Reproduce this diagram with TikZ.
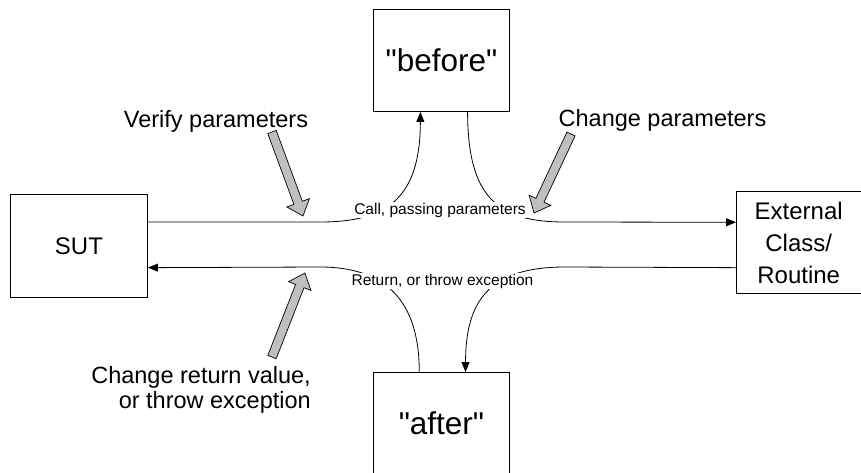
\documentclass[tikz,border=0pt]{standalone}
\usepackage{fontspec}
\setmainfont{Liberation Sans}
\usetikzlibrary{arrows.meta,calc}

\tikzset{
  box/.style={draw, line width=0.9pt, inner sep=0pt, anchor=north west, align=center},
  bigtext/.style={font=\fontsize{24}{32}\selectfont},
  hugetext/.style={font=\fontsize{31.5}{36}\selectfont},
  note/.style={font=\fontsize{23.5}{25}\selectfont, inner sep=0pt},
  flowlabel/.style={font=\fontsize{15.5}{18}\selectfont, fill=white, inner sep=0.6pt, anchor=base},
  flow/.style={line width=0.8pt},
  tip/.style={-{Triangle[length=10pt,width=8pt]}},
  hint/.style={fill=black!25, draw=black, line width=0.7pt, line join=miter}
}

% gray block arrow: tail point, direction angle, overall length
\newcommand{\grayarrow}[3]{%
  \begin{scope}[shift={(#1)}, rotate=#2]
    \filldraw[hint] (0,-4.5) -- ({#3-14},-4.5) -- ({#3-14},-12) -- (#3,0)
      -- ({#3-14},12) -- ({#3-14},4.5) -- (0,4.5) -- cycle;
  \end{scope}}

\begin{document}
\begin{tikzpicture}[x=1pt, y=-1pt]
  \useasboundingbox (0,0) rectangle (861,472);

  % boxes
  \node[box, bigtext, minimum width=137pt, minimum height=103pt] (sut) at (10,194) {SUT};
  \node[box, bigtext, minimum width=124.5pt, minimum height=102pt] (ext) at (736,191)
    {External\\Class/\\Routine};
  \node[box, hugetext, minimum width=136pt, minimum height=102pt] (before) at (373,9)
    {\textquotedbl before\textquotedbl};
  \node[box, hugetext, minimum width=136pt, minimum height=102pt] (after) at (373,372)
    {\textquotedbl after\textquotedbl};

  % attachment points on the boxes
  \coordinate (sutOut) at ($(sut.north east)!0.27!(sut.south east)$);
  \coordinate (sutIn)  at ($(sut.north east)!0.709!(sut.south east)$);
  \coordinate (extIn)  at ($(ext.north west)!0.304!(ext.south west)$);
  \coordinate (extOut) at ($(ext.north west)!0.745!(ext.south west)$);
  \coordinate (befIn)  at ($(before.south west)!0.346!(before.south east)$);
  \coordinate (befOut) at ($(before.south west)!0.691!(before.south east)$);
  \coordinate (aftOut) at ($(after.north west)!0.338!(after.north east)$);
  \coordinate (aftIn)  at ($(after.north west)!0.676!(after.north east)$);

  % call: SUT -> "before" -> external routine
  \draw[flow, tip] (sutOut) -- (320,222) .. controls (385,222) and (befIn |- 0,200) .. (befIn);
  \draw[flow, tip] (befOut) .. controls (befOut |- 0,200) and (500,222) .. (565,222) -- (extIn);

  % return: external routine -> "after" -> SUT
  \draw[flow, tip] (extOut) -- (565,267) .. controls (490,267) and (aftIn |- 0,300) .. (aftIn);
  \draw[flow, tip] (aftOut) .. controls (aftOut |- 0,300) and (385,267) .. (320,267) -- (sutIn);

  % labels on the flows
  \node[flowlabel] (callLbl) at (440,214) {Call, passing parameters};
  \node[flowlabel] (retLbl) at (442.5,285) {Return, or throw exception};

  % notes
  \node[note, anchor=base] (verify) at (216,127) {Verify parameters};
  \node[note, anchor=base] (change) at (662.5,126) {Change parameters};
  \node[note, anchor=base east] (retval) at (311,383) {Change return value,};
  \node[note, anchor=base east] (retval2) at (311,408) {or throw exception};

  % gray pointers from the notes to the flows
  \coordinate (v1) at (272,132);
  \coordinate (c1) at (571,134);
  \coordinate (r1) at (272,357);
  \grayarrow{v1}{-69.74}{89.5}
  \grayarrow{c1}{-115.1}{87.2}
  \grayarrow{r1}{68.6}{90.2}
\end{tikzpicture}
\end{document}
